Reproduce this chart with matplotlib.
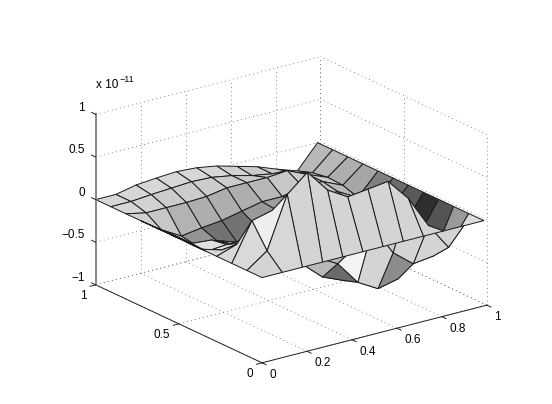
import numpy as np
import matplotlib
matplotlib.use("Agg")
import matplotlib.pyplot as plt

plt.rcParams['font.family'] = ['Liberation Sans', 'DejaVu Sans']

# mesh, values in units of 1e-11, rows go with y, columns with x
x_nodes = np.linspace(0, 0.987, 12)
y_nodes = np.linspace(0, 1, 12)
z_rows = [
    [0, 0, 0, 0, 0, 0, 0, 0, 0, 0, 0, 0],
    [0, .17, .77, .97, .70, .56, .59, .62, .36, -.02, -.335, 0],
    [0, .44, .50, .30, 0, -.24, -.20, 0, -.36, -.55, -.52, 0],
    [0, .08, .13, .10, -.20, -.32, -.45, -.73, -.865, -.81, -.39, 0],
    [0, -.07, -.05, 0, -.30, -.48, -.69, -.79, -.75, -.60, -.35, 0],
    [0, -.17, -.15, -.15, -.35, -.50, -.60, -.60, -.55, -.35, -.25, 0],
    [0, -.16, -.18, -.29, -.40, -.45, -.40, -.30, -.25, -.20, -.22, 0],
    [0, -.16, -.33, -.33, -.41, -.29, -.16, -.10, -.12, -.12, -.25, 0],
    [0, -.165, -.30, -.265, -.24, -.19, -.14, -.14, -.08, -.085, -.19, 0],
    [0, -.05, -.05, -.05, -.04, 0, 0, 0, .02, -.085, -.18, 0],
    [0, 0, .02, .035, .05, .04, 0, -.06, -.10, -.145, -.21, 0],
    [0, 0, .05, .07, .085, .07, .03, -.035, -.10, -.19, -.27, 0],
]
# grey of every face
grey_rows = [
    [.83, .84, .83, .83, .83, .83, .83, .83, .83, .83, .86],
    [.85, .93, .82, .82, .82, .82, .82, .82, .83, .83, .60],
    [.85, .85, .80, .72, .72, .72, .95, .83, .55, .80, .33],
    [.85, .85, .80, .72, .72, .72, .42, .70, .70, .70, .18],
    [.88, .88, .85, .75, .70, .70, .70, .70, .70, .70, .35],
    [.88, .88, .85, .75, .70, .70, .70, .70, .70, .70, .42],
    [.88, .88, .80, .70, .65, .65, .65, .70, .70, .70, .50],
    [.85, .80, .58, .45, .45, .60, .62, .70, .75, .72, .65],
    [.82, .78, .70, .68, .68, .68, .72, .78, .80, .80, .68],
    [.84, .82, .80, .80, .80, .80, .80, .80, .80, .80, .72],
    [.84, .84, .84, .84, .84, .84, .82, .80, .80, .78, .72],
]
x_ticks = [0, 0.2, 0.4, 0.6, 0.8, 1]
y_ticks = [0, 0.5, 1]
z_ticks = [-1, -0.5, 0, 0.5, 1]
x_labels = ['0', '0.2', '0.4', '0.6', '0.8', '1']
y_labels = ['0', '0.5', '1']
z_labels = ['\u22121', '\u22120.5', '0', '0.5', '1']

fig = plt.figure(figsize=(5.52, 4.04), dpi=100)
side = 500
ax = fig.add_axes([34.5 / 552, -62.5 / 404, side / 552, side / 404],
                  projection='3d', computed_zorder=False)
ax.set_proj_type('ortho')
ax.view_init(elev=20.3, azim=-126.5)
ax.set_box_aspect((1, 1, 0.65), zoom=0.845)
ax.set_xlim(0, 1)
ax.set_ylim(0, 1)
ax.set_zlim(-1, 1)
ax.set_xticks([])
ax.set_yticks([])
ax.set_zticks([])
ax.set_axis_off()
for axis in (ax.xaxis, ax.yaxis, ax.zaxis):
    axis.set_visible(False)

# dotted walls and floor
grid_style = dict(color='#666666', linestyle=(0, (1, 4)), linewidth=0.6, zorder=1)
for t in x_ticks:
    ax.plot([t, t], [0, 1], [-1, -1], **grid_style)
    ax.plot([t, t], [1, 1], [-1, 1], **grid_style)
for t in y_ticks:
    ax.plot([0, 1], [t, t], [-1, -1], **grid_style)
    ax.plot([1, 1], [t, t], [-1, 1], **grid_style)
for t in z_ticks:
    ax.plot([0, 1], [1, 1], [t, t], **grid_style)
    ax.plot([1, 1], [0, 1], [t, t], **grid_style)

xx, yy = np.meshgrid(x_nodes, y_nodes)
zz = np.array(z_rows)
face_colors = plt.cm.gray(np.array(grey_rows))
ax.plot_surface(xx, yy, zz, rstride=1, cstride=1, facecolors=face_colors, shade=False,
                edgecolor='#1a1a1a', linewidth=0.7, antialiased=True, zorder=2)

# axis lines, ticks and labels
line_style = dict(color='#222222', linewidth=0.7, zorder=3)
ax.plot([0, 1], [0, 0], [-1, -1], **line_style)
ax.plot([0, 0], [0, 1], [-1, -1], **line_style)
ax.plot([0, 0], [1, 1], [-1, 1], color='#888888', linewidth=1.4, zorder=3)
tick_len = 0.025
for t, label in zip(x_ticks, x_labels):
    ax.plot([t, t], [0, -tick_len], [-1, -1], **line_style)
    ax.text(t, -0.045, -1.10, label, ha='left', va='center', fontsize=8.5)
for t, label in zip(y_ticks, y_labels):
    ax.plot([0, -tick_len], [t, t], [-1, -1], **line_style)
    ax.text(-0.04, t, -1.105, label, ha='right', va='center', fontsize=8.5)
for t, label in zip(z_ticks, z_labels):
    ax.plot([0, 0], [1, 1 + tick_len], [t, t], **line_style)
    ax.text(0, 1.065, t + 0.02, label, ha='right', va='center', fontsize=8.5)

fig.text(96 / 552, 1 - 88 / 404, 'x 10', ha='left', va='baseline', fontsize=8.5)
fig.text(119.5 / 552, 1 - 82 / 404, '\u221211', ha='left', va='baseline', fontsize=6.5)

fig.savefig('out.png', dpi=100)
